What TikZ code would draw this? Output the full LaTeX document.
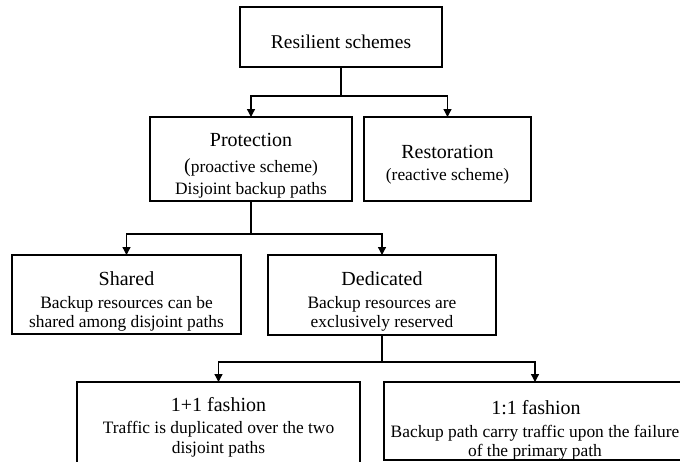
\documentclass[tikz,border=0pt]{standalone}
\usepackage{fontspec}
\setmainfont{Liberation Serif}
\usetikzlibrary{arrows.meta}
\newcommand\ttlfnt{\fontsize{20}{24}\selectfont}
\newcommand\rsfnt{\fontsize{19.5}{23}\selectfont}
\newcommand\subfnt{\fontsize{17.4}{20}\selectfont}
\begin{document}
\begin{tikzpicture}[x=1pt,y=-1pt,
  box/.style={draw,line width=1.3pt,inner sep=0pt,outer sep=0pt,anchor=north west},
  conn/.style={line width=1.3pt},
  arr/.style={line width=1.3pt,-{Triangle[length=8pt,width=8pt]}},
  ttl/.style={anchor=base,inner sep=0pt,font=\ttlfnt},
  sb/.style={anchor=base,inner sep=0pt,font=\subfnt}]
\useasboundingbox (0,0) rectangle (680,461);
\clip (0,0) rectangle (680,461);
% boxes
\node[box,minimum width=202pt,minimum height=60pt] (res) at (240,7) {};
\node[box,minimum width=202pt,minimum height=84pt] (prot) at (150,117) {};
\node[box,minimum width=167pt,minimum height=84pt] (rest) at (364,117) {};
\node[box,minimum width=229pt,minimum height=79pt] (shar) at (12,255) {};
\node[box,minimum width=228pt,minimum height=80pt] (ded) at (268,255) {};
\node[box,minimum width=283pt,minimum height=95pt] (pp) at (77,382) {};
\node[box,minimum width=302pt,minimum height=78pt] (pc) at (384,382) {};
% texts
\node[anchor=base,inner sep=0pt,font=\rsfnt] (tres) at (341,48) {Resilient schemes};
\node[ttl] (tprot) at (251,146) {Protection};
\node[sb] (tprot2) at (251,172.5) {{\ttlfnt(}proactive scheme)};
\node[sb] (tprot3) at (251,194.3) {Disjoint backup paths};
\node[ttl] (trest) at (447.5,158.3) {Restoration};
\node[sb] (trest2) at (447.5,180) {(reactive scheme)};
\node[ttl] (tshar) at (126.5,285) {Shared};
\node[sb] (tshar2) at (126.5,308.3) {Backup resources can be};
\node[sb] (tshar3) at (126.5,327.3) {shared among disjoint paths};
\node[ttl] (tded) at (382,285) {Dedicated};
\node[sb] (tded2) at (382,308.3) {Backup resources are};
\node[sb] (tded3) at (382,327.3) {exclusively reserved};
\node[ttl] (tpp) at (218.5,411) {1+1 fashion};
\node[sb] (tpp2) at (218.5,433.3) {Traffic is duplicated over the two};
\node[sb] (tpp3) at (218.5,453.3) {disjoint paths};
\node[ttl] (tpc) at (536,414.3) {1:1 fashion};
\node[sb] (tpc2) at (535,437.3) {Backup path carry traffic upon the failure};
\node[sb] (tpc3) at (535,456.7) {of the primary path};
% connectors
\coordinate (j1) at (341,96);
\draw[conn] (res.south) -- (j1);
\draw[arr] (j1) -| (prot.north);
\draw[arr] (j1) -| (rest.north);
\coordinate (j2) at (251,234);
\draw[conn] (prot.south) -- (j2);
\draw[arr] (j2) -| (shar.north);
\draw[arr] (j2) -| (ded.north);
\coordinate (j3) at (382,362);
\draw[conn] (ded.south) -- (j3);
\draw[arr] (j3) -| (pp.north);
\draw[arr] (j3) -| (pc.north);
\end{tikzpicture}
\end{document}
